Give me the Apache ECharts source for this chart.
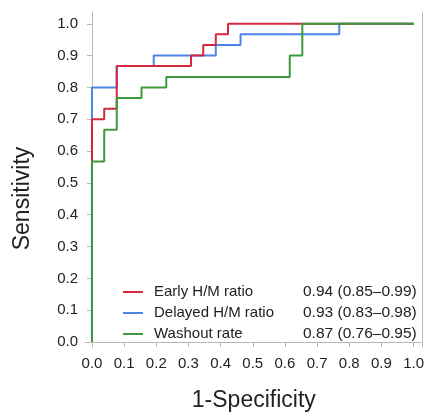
<!DOCTYPE html>
<html>
<head>
<meta charset="utf-8">
<script src="https://cdn.jsdelivr.net/npm/echarts@6/dist/echarts.min.js"></script>
<style>
  html, body { margin: 0; padding: 0; background: #fff; }
  #chart { width: 427px; height: 417px; }
</style>
</head>
<body>
<div id="chart"></div>
<script>
// ROC points (1-specificity, sensitivity), drawn as steps
const seriesNames = ['Early H/M ratio', 'Delayed H/M ratio', 'Washout rate']
const aucLabels = ['0.94 (0.85\u20130.99)', '0.93 (0.83\u20130.98)', '0.87 (0.76\u20130.95)']

const earlyFpr = [0, 0, 0.038, 0.077, 0.308, 0.346, 0.385, 0.423, 1]
const earlyTpr = [0, 0.7, 0.733, 0.867, 0.9, 0.933, 0.967, 1, 1]

const delayedFpr = [0, 0, 0.077, 0.192, 0.385, 0.462, 0.769, 1]
const delayedTpr = [0, 0.8, 0.867, 0.9, 0.933, 0.967, 1, 1]

const washoutFpr = [0, 0, 0.038, 0.077, 0.154, 0.231, 0.615, 0.654, 1]
const washoutTpr = [0, 0.567, 0.667, 0.767, 0.8, 0.833, 0.9, 1, 1]

const colors = ['#d4283f', '#4a84e6', '#3c9a3c']

const pairs = (xs, ys) => xs.map((x, i) => [x, ys[i]])
const tickFmt = v => {
    const r = Math.round(v * 10)
    return Math.abs(v * 10 - r) < 1e-6 ? (r / 10).toFixed(1) : ''
}

const axisGray = '#b8b8b8'
const labelColor = '#222'
const font = 'Liberation Sans, Arial, sans-serif'

let Charts = echarts.init(document.getElementById('chart'))
Charts.setOption({
    animation: false,
    textStyle: { fontFamily: font },
    legend: {
        data: seriesNames,
        orient: 'vertical',
        left: 118,
        top: 279,
        icon: 'rect',
        itemWidth: 20,
        itemHeight: 2,
        itemGap: 5,
        textStyle: {
            fontSize: 15,
            lineHeight: 16,
            color: labelColor,
            rich: {
                n: { width: 149, fontSize: 15, lineHeight: 16, color: labelColor, padding: [0, 0, 0, 6] },
                v: { fontSize: 15.5, lineHeight: 16, color: labelColor }
            }
        },
        formatter: name => '{n|' + name + '}{v|' + aucLabels[seriesNames.indexOf(name)] + '}'
    },
    grid: {
        left: 85,
        right: 3,
        top: 12,
        bottom: 67,
        containLabel: false
    },
    xAxis: {
        type: 'value',
        min: -0.0217,
        max: 1.028,
        splitNumber: 10,
        name: '1-Specificity',
        nameLocation: 'middle',
        nameGap: 42,
        nameTextStyle: { fontSize: 23, color: labelColor },
        axisLine: { show: true, lineStyle: { color: axisGray } },
        axisTick: { show: true, length: 5, lineStyle: { color: axisGray } },
        axisLabel: { fontSize: 15, color: labelColor, margin: 9, formatter: tickFmt, showMinLabel: false, showMaxLabel: false },
        splitLine: { show: false }
    },
    yAxis: [{
        type: 'value',
        min: -0.0156,
        max: 1.037,
        splitNumber: 10,
        name: 'Sensitivity',
        nameLocation: 'middle',
        nameGap: 51,
        nameRotate: 90,
        nameTextStyle: { fontSize: 23, color: labelColor, padding: [0, 38, 0, 0] },
        axisLine: { show: true, lineStyle: { color: axisGray } },
        axisTick: { show: true, length: 5, lineStyle: { color: axisGray } },
        axisLabel: { fontSize: 15, color: labelColor, margin: 7, formatter: tickFmt, showMinLabel: false, showMaxLabel: false },
        splitLine: { show: false }
    }, {
        type: 'value',
        position: 'right',
        min: -0.0156,
        max: 1.037,
        axisLine: { show: true, lineStyle: { color: axisGray } },
        axisTick: { show: false },
        axisLabel: { show: false },
        splitLine: { show: false }
    }],
    series: [{
        name: seriesNames[1],
        type: 'line',
        step: 'end',
        symbol: 'none',
        data: pairs(delayedFpr, delayedTpr),
        lineStyle: { width: 2, color: colors[1] },
        itemStyle: { color: colors[1] }
    }, {
        name: seriesNames[0],
        type: 'line',
        step: 'end',
        symbol: 'none',
        data: pairs(earlyFpr, earlyTpr),
        lineStyle: { width: 2, color: colors[0] },
        itemStyle: { color: colors[0] }
    }, {
        name: seriesNames[2],
        type: 'line',
        step: 'end',
        symbol: 'none',
        data: pairs(washoutFpr, washoutTpr),
        lineStyle: { width: 2, color: colors[2] },
        itemStyle: { color: colors[2] }
    }]
})
</script>
</body>
</html>
